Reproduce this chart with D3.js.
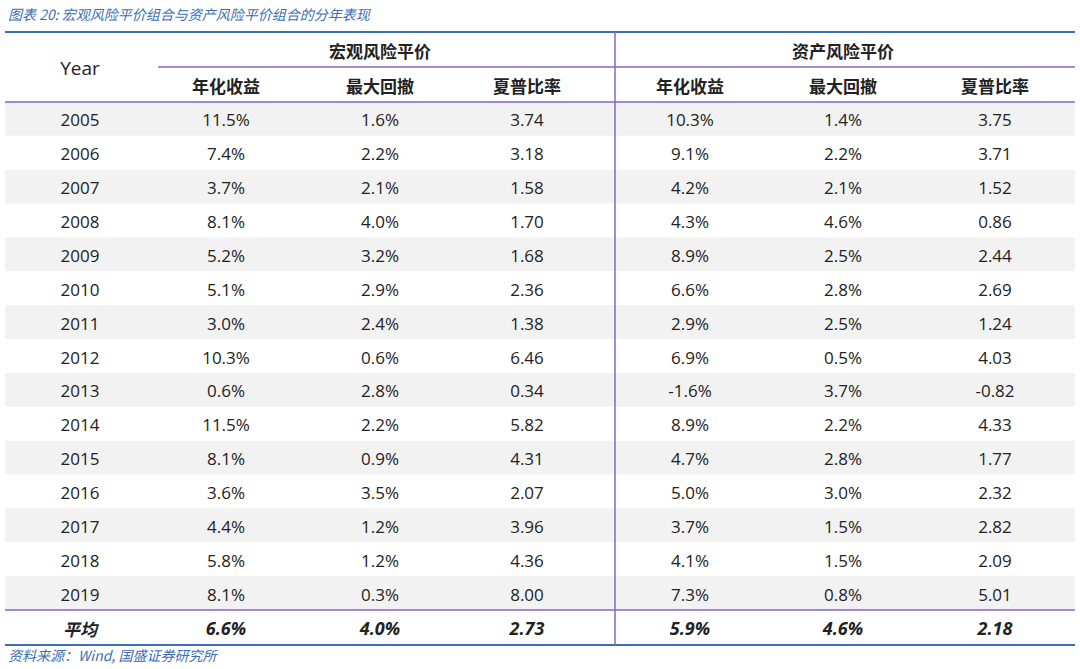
<!DOCTYPE html><html><head><meta charset="utf-8"><script src="https://cdn.jsdelivr.net/npm/d3@7"></script>
<style>body{margin:0;background:#fff}</style></head><body><svg id="c" width="1080" height="669"></svg>
<script>
const years=["2005","2006","2007","2008","2009","2010","2011","2012","2013","2014","2015","2016","2017","2018","2019"];
const macroRet=["11.5%","7.4%","3.7%","8.1%","5.2%","5.1%","3.0%","10.3%","0.6%","11.5%","8.1%","3.6%","4.4%","5.8%","8.1%"];
const macroDD=["1.6%","2.2%","2.1%","4.0%","3.2%","2.9%","2.4%","0.6%","2.8%","2.2%","0.9%","3.5%","1.2%","1.2%","0.3%"];
const macroSR=["3.74","3.18","1.58","1.70","1.68","2.36","1.38","6.46","0.34","5.82","4.31","2.07","3.96","4.36","8.00"];
const assetRet=["10.3%","9.1%","4.2%","4.3%","8.9%","6.6%","2.9%","6.9%","-1.6%","8.9%","4.7%","5.0%","3.7%","4.1%","7.3%"];
const assetDD=["1.4%","2.2%","2.1%","4.6%","2.5%","2.8%","2.5%","0.5%","3.7%","2.2%","2.8%","3.0%","1.5%","1.5%","0.8%"];
const assetSR=["3.75","3.71","1.52","0.86","2.44","2.69","1.24","4.03","-0.82","4.33","1.77","2.32","2.82","2.09","5.01"];
const groups=["宏观风险平价","资产风险平价"];
const subHeaders=["年化收益","最大回撤","夏普比率"];
const avgLabel="平均";
const avgValues=["6.6%","4.0%","2.73","5.9%","4.6%","2.18"];
const title="图表 20:  宏观风险平价组合与资产风险平价组合的分年表现";
const source="资料来源：Wind, 国盛证券研究所";

const svg=d3.select("#c");
const F="'Open Sans','Noto Sans CJK SC',sans-serif";
const blue="#3c6eb4", purple="#8a63c9";
const colX=[80,226,380,527,690,843,995];
const y=d3.scaleBand().domain(years).range([102,610]);
const cols=[macroRet,macroDD,macroSR,assetRet,assetDD,assetSR];

svg.append("text").attr("x",8).attr("y",20).attr("fill",blue).attr("font-style","italic")
 .attr("font-family","'Noto Sans CJK SC',sans-serif").attr("font-size",14).text(title);

svg.selectAll("rect.s").data(years).join("rect").attr("x",5).attr("width",1070)
 .attr("y",d=>y(d)).attr("height",y.bandwidth()).attr("fill",(d,i)=>i%2==0?"#f2f2f2":"#fff");

const T=(x,yy,t,o={})=>svg.append("text").attr("x",x).attr("y",yy).attr("text-anchor","middle")
 .attr("dominant-baseline","central").attr("font-family",o.f||F).attr("font-size",o.s||17)
 .attr("font-weight",o.w||"normal").attr("font-style",o.i||"normal").attr("fill","#222").text(t);

T(80,68,"Year",{s:19});
groups.forEach((g,i)=>T(i?843:380,50,g,{f:"'Noto Sans CJK SC',sans-serif",w:"bold",s:17}));
subHeaders.concat(subHeaders).forEach((h,i)=>T(colX[i+1],85,h,{f:"'Noto Sans CJK SC',sans-serif",w:"bold",s:17}));
years.forEach((yr,r)=>{
 const cy=y(yr)+y.bandwidth()/2+1;
 T(colX[0],cy,yr);
 cols.forEach((c,j)=>T(colX[j+1],cy,c[r]));
});
T(colX[0],628,avgLabel,{f:"'Noto Sans CJK SC',sans-serif",w:"bold",i:"italic"});
avgValues.forEach((v,j)=>T(colX[j+1],628,v,{w:"bold",i:"italic",s:18}));

const L=(x1,y1,x2,y2,c,w)=>svg.append("line").attr("x1",x1).attr("y1",y1).attr("x2",x2).attr("y2",y2).attr("stroke",c).attr("stroke-width",w);
L(5,32,1075,32,blue,2);
L(158,67,1075,67,purple,1.5);
L(5,102,1075,102,purple,1.5);
L(5,610,1075,610,purple,1.5);
L(5,645,1075,645,blue,2);
L(615,32,615,645,purple,1.5);
svg.append("text").attr("x",8).attr("y",661).attr("fill",blue).attr("font-style","italic")
 .attr("font-family","'Noto Sans CJK SC',sans-serif").attr("font-size",14).text(source);
</script></body></html>
